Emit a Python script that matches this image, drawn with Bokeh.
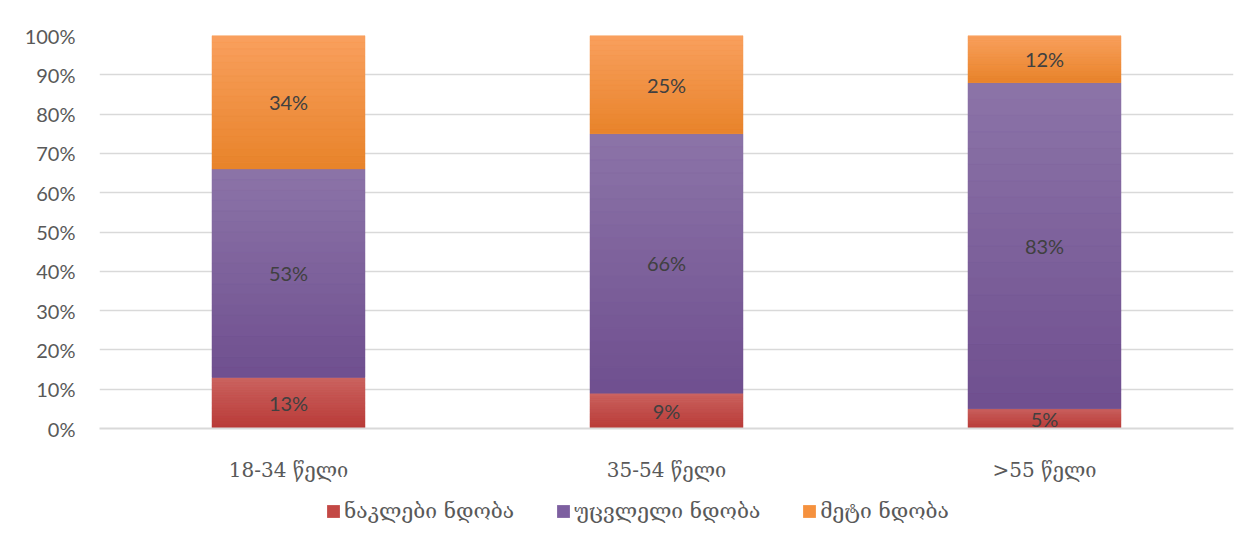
from bokeh.plotting import figure
from bokeh.layouts import column
from bokeh.models import (ColumnDataSource, FactorRange, NumeralTickFormatter, LabelSet,
                          Legend, LegendItem, FixedTicker)
from bokeh.core.properties import value
from bokeh.embed import file_html
from bokeh.resources import INLINE

categories = ["18-34 წელი", "35-54 წელი", ">55 წელი"]
series_names = ["ნაკლები ნდობა", "უცვლელი ნდობა", "მეტი ნდობა"]
less_trust = [0.13, 0.09, 0.05]
same_trust = [0.53, 0.66, 0.83]
more_trust = [0.34, 0.25, 0.12]
colors = ["#C34845", "#7D5FA0", "#F5913E"]
# gradient end colours (top, bottom) of each series, Excel-style fill
grad_top = ["#CB6461", "#8C74A8", "#F9A05E"]
grad_bottom = ["#B93A37", "#6F4F8F", "#E8832A"]

series = [less_trust, same_trust, more_trust]


def hex2rgb(h):
    h = h.lstrip("#")
    return [int(h[i:i + 2], 16) for i in (0, 2, 4)]


def mix(c1, c2, t):
    a, b = hex2rgb(c1), hex2rgb(c2)
    return "#%02x%02x%02x" % tuple(round(x + (y - x) * t) for x, y in zip(a, b))


p = figure(x_range=FactorRange(*categories, range_padding=0), y_range=(0, 1),
           width=1244, height=490, output_backend="svg", toolbar_location=None,
           min_border_left=99, min_border_right=11, min_border_top=35, min_border_bottom=62)
p.outline_line_color = None
p.background_fill_color = "white"
p.border_fill_color = "white"

N = 20
bottoms = [0.0] * len(categories)
for name, vals, col, gt, gb in zip(series_names, series, colors, grad_top, grad_bottom):
    tops = [b + v for b, v in zip(bottoms, vals)]
    mids = [(b + t) / 2 for b, t in zip(bottoms, tops)]
    src = ColumnDataSource(dict(x=categories, bottom=bottoms, top=tops, mid=mids,
                                lab=[f"{round(v*100)}%" for v in vals]))
    p.vbar(x="x", bottom="bottom", top="top", width=0.405, source=src,
           fill_color=col, line_color=None)
    # gradient shading of each segment (slices of the same segment)
    gx, gb0, gt0, gc = [], [], [], []
    for c, b, t in zip(categories, bottoms, tops):
        for k in range(N):
            gx.append(c)
            gb0.append(b + (t - b) * k / N)
            gt0.append(b + (t - b) * (k + 1) / N)
            gc.append(mix(gb, gt, (k + 0.5) / N))
    p.vbar(x=gx, bottom=gb0, top=gt0, width=0.405, fill_color=gc, line_color=gc,
           line_width=0.3)
    labels = LabelSet(x="x", y="mid", text="lab", source=src, text_align="center",
                      text_baseline="middle", text_font=value("Lato"),
                      text_font_size=value("20px"), text_color="#404040")
    p.add_layout(labels)
    bottoms = tops

# axes
p.yaxis.ticker = FixedTicker(ticks=[i / 10 for i in range(11)])
p.yaxis.formatter = NumeralTickFormatter(format="0%")
p.yaxis.axis_line_color = None
p.yaxis.major_tick_line_color = None
p.yaxis.minor_tick_line_color = None
p.yaxis.major_tick_out = 0
p.yaxis.major_label_standoff = 24
p.yaxis.major_label_text_font = "Lato"
p.yaxis.major_label_text_font_size = "20px"
p.yaxis.major_label_text_color = "#595959"

p.xaxis.axis_line_color = "#D9D9D9"
p.xaxis.axis_line_width = 2
p.xaxis.major_tick_line_color = None
p.xaxis.minor_tick_line_color = None
p.xaxis.major_tick_out = 0
p.xaxis.major_label_standoff = 29
p.xaxis.major_label_text_font = "DejaVu Serif"
p.xaxis.major_label_text_font_size = "20px"
p.xaxis.major_label_text_color = "#595959"

p.xgrid.grid_line_color = None
p.ygrid.grid_line_color = "#D9D9D9"
p.ygrid.grid_line_width = 1.5

# legend strip
lg = figure(width=1244, height=43, output_backend="svg", toolbar_location=None,
            x_axis_type=None, y_axis_type=None, min_border=0,
            x_range=(0, 1), y_range=(0, 1))
lg.outline_line_color = None
lg.grid.grid_line_color = None
items = []
for name, col in zip(series_names, colors):
    r = lg.vbar(x=[0], bottom=[0], top=[0], width=0, fill_color=col, line_color=None)
    items.append(LegendItem(label=name, renderers=[r]))
legend = Legend(items=items, orientation="horizontal", location=(226, 10),
                label_text_font="DejaVu Serif", label_text_font_size="21px",
                label_text_color="#595959", glyph_width=16, glyph_height=16,
                spacing=41, border_line_color=None, background_fill_alpha=0,
                margin=0, padding=2, label_standoff=3)
lg.add_layout(legend, "center")

layout = column(p, lg, spacing=0)
open("out.html", "w").write(file_html(layout, INLINE))
